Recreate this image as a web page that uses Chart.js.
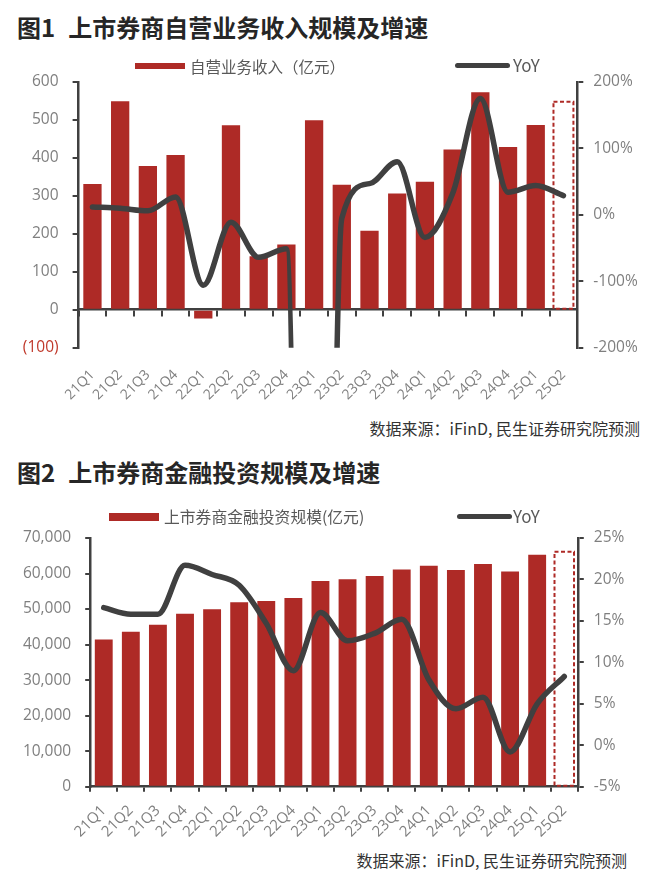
<!DOCTYPE html>
<html lang="zh-CN">
<head>
<meta charset="utf-8">
<title>上市券商自营业务收入与金融投资规模</title>
<script src="https://cdn.jsdelivr.net/npm/chart.js@4.4.1/dist/chart.umd.min.js"></script>
<style>
  body {
    margin: 0;
    width: 660px;
    height: 883px;
    position: relative;
    background: #fff;
    overflow: hidden;
    font-family: "Noto Sans CJK SC", "Noto Sans", sans-serif;
  }
  .title { position: absolute; left: 17px; font-size: 24px; font-weight: bold; color: #262626; line-height: 30px; white-space: nowrap; }
  .title span { margin-right: 13px; }
  .source { position: absolute; font-size: 16px; color: #333; line-height: 22px; white-space: nowrap; }
  .swatch { position: absolute; z-index: 2; }
  .legend-text { position: absolute; z-index: 2; color: #595959; line-height: 20px; white-space: nowrap; }
  canvas { position: absolute; left: 0; z-index: 1; }
</style>
</head>
<body>

<div class="title" style="top:12px"><span>图1</span>上市券商自营业务收入规模及增速</div>
<div class="swatch" style="left:135px;top:63px;width:50px;height:6px;background:#AE2A26"></div>
<div class="legend-text" style="left:190px;top:56px;font-size:15.5px">自营业务收入（亿元）</div>
<div class="swatch" style="left:455px;top:63px;width:55px;height:5px;border-radius:3px;background:#404040"></div>
<div class="legend-text" style="left:513px;top:55px;font-size:17px">YoY</div>
<canvas id="incomeChart" width="660" height="352" style="top:58.3px"></canvas>
<div class="source" style="top:417px;right:20px">数据来源：iFinD, 民生证券研究院预测</div>

<div class="title" style="top:457px"><span>图2</span>上市券商金融投资规模及增速</div>
<div class="swatch" style="left:109px;top:513px;width:50px;height:8px;background:#AE2A26"></div>
<div class="legend-text" style="left:164px;top:507px;font-size:15.8px">上市券商金融投资规模(亿元)</div>
<div class="swatch" style="left:457px;top:514px;width:55px;height:5px;border-radius:3px;background:#404040"></div>
<div class="legend-text" style="left:513px;top:506px;font-size:17px">YoY</div>
<canvas id="investChart" width="660" height="336.3" style="top:513.7px"></canvas>
<div class="source" style="top:849px;right:33px">数据来源：iFinD, 民生证券研究院预测</div>

<script>
// Quarters shared by both charts (25Q2 is a forecast)
const quarters = ['21Q1', '21Q2', '21Q3', '21Q4', '22Q1', '22Q2', '22Q3', '22Q4', '23Q1',
                  '23Q2', '23Q3', '23Q4', '24Q1', '24Q2', '24Q3', '24Q4', '25Q1', '25Q2'];
const forecastIndex = 17;

// 图1: 自营业务收入（亿元） and YoY (%); 23Q1 YoY sits far below the axis floor
const incomeValues = [331, 549, 379, 408, -23, 486, 141, 172, 499, 329, 208, 306, 337, 422, 573, 429, 487, 548];
const incomeYoY = [12, 10, 6, 27, -106, -11, -64, -51, -2270, -5, 47, 80, -34, 32, 175, 34, 44, 29];

// 图2: 金融投资规模（亿元） and YoY (%)
const investValues = [41400, 43600, 45600, 48700, 49950, 51900, 52300, 53100, 57900,
                      58400, 59300, 61100, 62200, 61000, 62700, 60600, 65300, 66100];
const investYoY = [16.6, 15.8, 15.8, 21.7, 20.6, 19.3, 14.7, 9.0, 16.0,
                   12.6, 13.5, 15.2, 7.9, 4.4, 5.8, -0.8, 5.0, 8.3];

const RED = '#AE2A26';
const LINE = '#404040';
const AXIS = '#404040';
const TICK_TEXT = '#7f7f7f';
const NUM_FONT = '"Open Sans", "Noto Sans", sans-serif';

// Bars from the forecast quarter get a dashed red outline instead of a fill
const forecastOutline = {
    id: 'forecastOutline',
    afterDatasetDraw(chart, args) {
        const ds = chart.data.datasets[args.index];
        if (!ds.isForecast) return;
        const ctx = chart.ctx;
        args.meta.data.forEach((bar, i) => {
            if (ds.data[i] == null) return;
            const p = bar.getProps(['x', 'y', 'base', 'width'], true);
            ctx.save();
            ctx.strokeStyle = RED;
            ctx.lineWidth = 2;
            ctx.setLineDash([4, 2.5]);
            ctx.strokeRect(p.x - p.width / 2, p.y, p.width, p.base - p.y);
            ctx.restore();
        });
    }
};

// Axis line + outward tick marks, no gridlines inside the plot
function axisGrid(len) {
    return { display: true, drawOnChartArea: false, drawTicks: true, tickLength: len, color: AXIS, lineWidth: 2 };
}
const axisBorder = { display: true, color: AXIS, width: 2.5 };

function buildChart(canvasId, values, yoy, opts) {
    const actual = values.map((v, i) => (i < forecastIndex ? v : null));
    const forecast = values.map((v, i) => (i >= forecastIndex ? v : null));
    const ctx = document.getElementById(canvasId).getContext('2d');

    return new Chart(ctx, {
        type: 'bar',
        data: {
            labels: quarters,
            datasets: [
                {
                    type: 'line',
                    data: yoy,
                    xAxisID: 'x',
                    yAxisID: 'y1',
                    borderColor: LINE,
                    borderWidth: 5.5,
                    borderCapStyle: 'round',
                    borderJoinStyle: 'round',
                    pointRadius: 0,
                    cubicInterpolationMode: 'monotone',
                    order: 0
                },
                {
                    data: actual,
                    xAxisID: 'x',
                    yAxisID: 'y',
                    backgroundColor: RED,
                    grouped: false,
                    categoryPercentage: 1,
                    barPercentage: 0.66,
                    order: 1
                },
                {
                    data: forecast,
                    isForecast: true,
                    xAxisID: 'x',
                    yAxisID: 'y',
                    backgroundColor: 'rgba(0,0,0,0)',
                    grouped: false,
                    categoryPercentage: 1,
                    barPercentage: 0.72,
                    order: 2
                }
            ]
        },
        options: {
            responsive: false,
            animation: false,
            // y tick padding pushes the plot top down, so fix it explicitly
            layout: { padding: { top: 24, left: 0, right: 0, bottom: 0 } },
            plugins: { legend: { display: false }, tooltip: { enabled: false } },
            scales: opts.scales
        },
        plugins: [forecastOutline]
    });
}

// 图1: labels sit under the plot, the category axis line runs along zero
buildChart('incomeChart', incomeValues, incomeYoY, {
    scales: {
        x: {
            type: 'category',
            position: 'bottom',
            offset: true,
            grid: { display: false, drawTicks: false },
            border: { display: false },
            ticks: { autoSkip: false, minRotation: 45, maxRotation: 45, padding: 19, color: TICK_TEXT, font: { family: NUM_FONT, size: 14 } },
            afterFit(scale) { scale.height = 62.3; }
        },
        x0: {
            type: 'category',
            position: { y: 0 },
            offset: true,
            grid: Object.assign(axisGrid(6), { offset: true }),
            border: axisBorder,
            ticks: { display: false }
        },
        y: {
            position: 'left',
            min: -100,
            max: 600,
            ticks: {
                stepSize: 100,
                padding: 14,
                font: { family: NUM_FONT, size: 15.5 },
                color: c => (c.tick && c.tick.value < 0 ? '#C0392B' : TICK_TEXT),
                callback: v => (v < 0 ? '(' + Math.abs(v) + ')' : v)
            },
            grid: axisGrid(6),
            border: axisBorder,
            afterFit(scale) { scale.width = 78.6; }
        },
        y1: {
            position: 'right',
            min: -200,
            max: 200,
            ticks: { stepSize: 100, padding: 10, color: TICK_TEXT, font: { family: NUM_FONT, size: 15.5 }, callback: v => v + '%' },
            grid: axisGrid(6),
            border: axisBorder,
            afterFit(scale) { scale.width = 82.7; }
        }
    }
});

// 图2: plain bottom category axis at zero
buildChart('investChart', investValues, investYoY, {
    scales: {
        x: {
            type: 'category',
            position: 'bottom',
            offset: true,
            grid: Object.assign(axisGrid(5), { offset: true }),
            border: axisBorder,
            ticks: { autoSkip: false, minRotation: 45, maxRotation: 45, padding: 10, color: TICK_TEXT, font: { family: NUM_FONT, size: 15 } },
            afterFit(scale) { scale.height = 63.3; }
        },
        y: {
            position: 'left',
            min: 0,
            max: 70000,
            ticks: {
                stepSize: 10000,
                padding: 14,
                color: TICK_TEXT,
                font: { family: NUM_FONT, size: 15.5 },
                callback: v => v.toLocaleString('en-US')
            },
            grid: axisGrid(5),
            border: axisBorder,
            afterFit(scale) { scale.width = 90.2; }
        },
        y1: {
            position: 'right',
            min: -5,
            max: 25,
            ticks: { stepSize: 5, padding: 10, color: TICK_TEXT, font: { family: NUM_FONT, size: 15.5 }, callback: v => v + '%' },
            grid: axisGrid(6),
            border: axisBorder,
            afterFit(scale) { scale.width = 82.2; }
        }
    }
});
</script>
</body>
</html>
